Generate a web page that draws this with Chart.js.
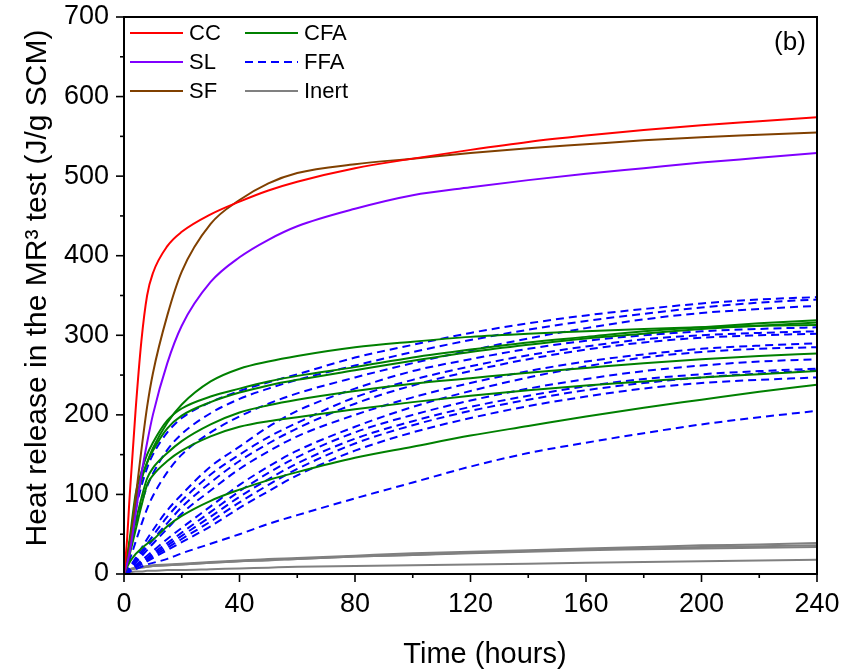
<!DOCTYPE html>
<html>
<head>
<meta charset="utf-8">
<script src="https://cdn.jsdelivr.net/npm/chart.js@4.4.0/dist/chart.umd.min.js"></script>
<style>
	html, body { margin: 0; padding: 0; background: #ffffff; }
</style>
</head>
<body>
<canvas id="Heat_Plot" width="844" height="671"></canvas>
<script>

// Sampling times (hours), shared by every curve
const hours = [0, 1, 2, 4, 6, 8, 10, 15, 20, 30, 40, 50, 60, 80, 100, 120, 140, 160, 180, 200, 220, 240];

// Reference SCMs
const cc = [0, 40, 100, 205, 292, 350, 378, 412, 430, 452, 468, 482, 493, 510, 522, 533, 543, 551, 558, 564, 569, 574];
const sl = [0, 12, 28, 75, 125, 165, 200, 265, 312, 367, 398, 420, 437, 459, 476, 486, 495, 503, 510, 517, 523, 529];
const sf = [0, 12, 35, 95, 155, 210, 252, 325, 380, 440, 470, 491, 504, 515, 522, 529, 535, 540, 545, 549, 552, 555];

// Calcium fly ashes
const cfa1 = [0, 15, 40, 85, 118, 140, 158, 190, 213, 242, 258, 267, 274, 285, 292, 298, 302, 305, 308, 310, 312, 313];
const cfa2 = [0, 20, 45, 100, 128, 150, 165, 193, 208, 223, 233, 242, 249, 260, 272, 282, 291, 298, 305, 310, 315, 319];
const cfa3 = [0, 18, 40, 90, 120, 140, 155, 183, 199, 216, 228, 237, 244, 256, 268, 279, 288, 296, 302, 308, 312, 316];
const cfa4 = [0, 12, 30, 65, 95, 120, 133, 152, 167, 188, 203, 212, 219, 230, 239, 246, 253, 259, 265, 270, 274, 277];
const cfa5 = [0, 10, 25, 55, 85, 112, 124, 142, 155, 173, 185, 192, 197, 207, 216, 224, 231, 237, 242, 247, 251, 255];
const cfa6 = [0, 8, 15, 25, 32, 38, 43, 60, 73, 92, 106, 118, 128, 146, 160, 174, 186, 198, 209, 219, 229, 238];

// Fly ashes (FFA)
const ffa1 = [0, 18, 40, 80, 110, 133, 150, 178, 196, 216, 230, 241, 251, 272, 288, 303, 315, 325, 333, 340, 345, 348];
const ffa2 = [0, 12, 28, 60, 88, 110, 126, 156, 176, 202, 220, 233, 244, 262, 279, 294, 307, 318, 327, 335, 341, 345];
const ffa3 = [0, 8, 18, 40, 62, 82, 98, 128, 150, 178, 198, 214, 227, 247, 265, 281, 296, 309, 320, 328, 333, 337];
const ffa4 = [0, 4, 9, 20, 32, 44, 55, 80, 100, 135, 160, 185, 205, 233, 255, 270, 283, 293, 300, 305, 308, 310];
const ffa5 = [0, 4, 8, 18, 28, 38, 48, 72, 92, 125, 150, 172, 190, 222, 244, 261, 275, 286, 295, 300, 303, 305];
const ffa6 = [0, 3, 7, 16, 25, 34, 43, 64, 84, 115, 142, 164, 183, 214, 237, 255, 270, 282, 291, 297, 300, 302];
const ffa7 = [0, 3, 6, 14, 22, 30, 38, 57, 76, 105, 132, 154, 173, 200, 222, 240, 255, 267, 276, 283, 287, 290];
const ffa8 = [0, 2, 5, 11, 17, 23, 29, 44, 58, 85, 112, 135, 155, 185, 210, 230, 247, 261, 272, 279, 283, 285];
const ffa9 = [0, 2, 4, 10, 15, 20, 26, 39, 52, 78, 104, 127, 147, 178, 200, 218, 233, 245, 255, 262, 267, 270];
const ffa10 = [0, 2, 4, 9, 14, 19, 24, 36, 48, 72, 97, 119, 139, 170, 192, 210, 224, 236, 245, 251, 255, 258];
const ffa11 = [0, 2, 4, 9, 13, 17, 22, 33, 44, 66, 90, 112, 132, 164, 187, 205, 219, 231, 240, 247, 252, 256];
const ffa12 = [0, 1, 3, 8, 12, 16, 20, 30, 40, 60, 83, 104, 124, 155, 178, 196, 211, 223, 233, 240, 244, 247];
const ffa13 = [0, 1, 3, 6, 9, 12, 14, 19, 26, 38, 50, 63, 74, 95, 115, 135, 152, 165, 177, 188, 197, 205];

// Inert fillers
const inert1 = [0, 4, 6, 8, 9, 10, 11, 12, 13, 15, 17, 19, 20, 23, 26, 28, 30, 32, 34, 36, 37, 39];
const inert2 = [0, 4, 6, 7, 8, 9, 10, 11, 12, 14, 16, 18, 19, 22, 24, 27, 29, 31, 32, 34, 35, 36];
const inert3 = [0, 3, 5, 7, 8, 9, 10, 11, 12, 14, 16, 17, 19, 22, 24, 26, 28, 30, 31, 32, 33, 34];
const inert4 = [0, 1, 2, 3, 3, 4, 4, 5, 5, 6, 7, 8, 9, 10, 11, 12, 13, 14, 15, 16, 17, 18];

// Legend entries and axis ticks
const legend_labels = ["CC", "SL", "SF", "CFA", "FFA", "Inert"];
const legend_colors = ["#ff0000", "#8000ff", "#804000", "#008000", "#0000ff", "#808080"];
const x_ticks = [0, 40, 80, 120, 160, 200, 240];
const y_ticks = [0, 100, 200, 300, 400, 500, 600, 700];
const x_title = "Time (hours)";
const y_title = "Heat release in the MR\u00B3 test (J/g SCM)";

const FONT = "'Liberation Sans', Arial, sans-serif";
Chart.defaults.font.family = FONT;
Chart.defaults.color = "#000000";

function Make_Series(values, color, dashed) {
	return {
		data: hours.map(function(h, i) { return { x: h, y: values[i] }; }),
		borderColor: color,
		borderWidth: 2,
		borderDash: dashed ? [8, 5] : [],
		fill: false,
		pointRadius: 0,
		cubicInterpolationMode: 'monotone',
	};
}

var datasets = [
	Make_Series(cc, legend_colors[0], false),
	Make_Series(sl, legend_colors[1], false),
	Make_Series(sf, legend_colors[2], false),
];
[cfa1, cfa2, cfa3, cfa4, cfa5, cfa6].forEach(function(s) { datasets.push(Make_Series(s, legend_colors[3], false)); });
[ffa1, ffa2, ffa3, ffa4, ffa5, ffa6, ffa7, ffa8, ffa9, ffa10, ffa11, ffa12, ffa13].forEach(function(s) { datasets.push(Make_Series(s, legend_colors[4], true)); });
[inert1, inert2, inert3, inert4].forEach(function(s) { datasets.push(Make_Series(s, legend_colors[5], false)); });

// Box, outward ticks (major + minor), axis titles, legend and panel label
var frame_plugin = {
	id: 'frame',
	afterDraw: function(chart) {
		var ctx = chart.ctx;
		var area = chart.chartArea;
		var xs = chart.scales.x;
		var ys = chart.scales.y;
		ctx.save();
		ctx.strokeStyle = "#000000";
		ctx.lineWidth = 2;
		ctx.setLineDash([]);
		ctx.strokeRect(area.left, area.top, area.right - area.left, area.bottom - area.top);

		ctx.lineWidth = 1.6;
		for (var v = 0; v <= 240; v += 20) {
			var px = xs.getPixelForValue(v);
			var len = (v % 40 === 0) ? 8 : 4;
			ctx.beginPath();
			ctx.moveTo(px, area.bottom);
			ctx.lineTo(px, area.bottom + len);
			ctx.stroke();
		}
		for (var w = 0; w <= 700; w += 50) {
			var py = ys.getPixelForValue(w);
			var len2 = (w % 100 === 0) ? 8 : 4;
			ctx.beginPath();
			ctx.moveTo(area.left, py);
			ctx.lineTo(area.left - len2, py);
			ctx.stroke();
		}

		ctx.fillStyle = "#000000";
		ctx.textBaseline = "middle";
		ctx.textAlign = "center";
		ctx.font = "29px " + FONT;
		ctx.fillText(x_title, 485, 655);
		ctx.save();
		ctx.translate(38, 288);
		ctx.rotate(-Math.PI / 2);
		ctx.font = "30px " + FONT;
		ctx.fillText(y_title, 0, 0);
		ctx.restore();

		// legend, two columns of three
		ctx.font = "22px " + FONT;
		ctx.textAlign = "left";
		for (var i = 0; i < legend_labels.length; i++) {
			var col = Math.floor(i / 3);
			var row = i % 3;
			var x0 = 130 + col * 115;
			var y0 = 33 + row * 29;
			ctx.strokeStyle = legend_colors[i];
			ctx.lineWidth = 2;
			ctx.setLineDash(legend_labels[i] === "FFA" ? [8, 5] : []);
			ctx.beginPath();
			ctx.moveTo(x0, y0);
			ctx.lineTo(x0 + 53, y0);
			ctx.stroke();
			ctx.fillText(legend_labels[i], x0 + 59, y0 + 1);
		}

		ctx.font = "26px " + FONT;
		ctx.textAlign = "center";
		ctx.fillText("(b)", 790, 43);
		ctx.restore();
	}
};

const heat_plot = document.getElementById("Heat_Plot").getContext("2d");

var Heat_Plot_Obj = new Chart(heat_plot, {
	type: "line",
	data: { datasets: datasets },
	options: {
		responsive: false,
		animation: false,
		layout: { padding: { top: 17, right: 27, left: 0, bottom: 0 } },
		plugins: {
			legend: { display: false },
			tooltip: { enabled: false },
		},
		scales: {
			x: {
				type: 'linear',
				min: 0,
				max: 240,
				afterFit: function(scale) { scale.height = 97; },
				afterBuildTicks: function(scale) { scale.ticks = x_ticks.map(function(v) { return { value: v }; }); },
				grid: { display: true, drawOnChartArea: false, drawTicks: true, tickLength: 14, tickColor: 'rgba(0,0,0,0)' },
				border: { display: false },
				ticks: { font: { size: 27 }, padding: 0, maxRotation: 0 },
			},
			y: {
				min: 0,
				max: 700,
				afterFit: function(scale) { scale.width = 124; },
				afterBuildTicks: function(scale) { scale.ticks = y_ticks.map(function(v) { return { value: v }; }); },
				grid: { display: true, drawOnChartArea: false, drawTicks: true, tickLength: 15, tickColor: 'rgba(0,0,0,0)' },
				border: { display: false },
				ticks: { font: { size: 27 }, padding: 0 },
			},
		},
		events: [], // No hover
	},
	plugins: [frame_plugin],
});

</script>
</body>
</html>
